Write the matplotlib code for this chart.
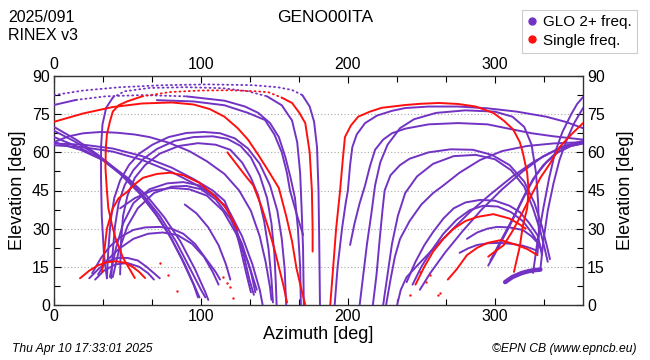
import matplotlib
matplotlib.use("Agg")
import matplotlib.pyplot as plt
from matplotlib.lines import Line2D
import numpy as np

plt.rcParams['font.family'] = ['Liberation Sans', 'DejaVu Sans']

PURPLE = '#7233C4'
RED = '#FF1010'

# ---- data: satellite tracks as (azimuth, elevation) pairs ----
T1 = [(0,82.5),(20,84.3),(45,85.6),(75,86.4),(105,86.7),(135,86.4),(152,85.6),(162,84.5),(169,82.5),(174,78),(177,72),(179,62),(180,45),(180.5,25),(181,0)]
T2 = [(36,10.5),(34,20),(32.5,35),(32,50),(32,62),(33,71),(35.5,77.5),(40,81.5),(48,84),(65,85.3),(90,85.6),(115,85.2),(132,84),(145,82),(155,78.5),(162,72.5),(165.5,64),(167.5,52),(168.5,38),(169.5,22),(170,0)]
T3 = [(0,78.6),(15,80.6),(35,82),(60,82.5),(90,82),(116,80.3),(130,78),(139,75.5),(147,71.5),(153,66),(157.5,58),(161,50),(164,42),(166,30),(167.5,15),(168,0)]
T4 = [(70,80.5),(95,80),(116,78.5),(132,75.5),(143.6,72.7),(150,67),(155,60),(158.5,52),(160.6,45),(165,36),(169.5,27.5)]
P1 = [(38,11),(42,22),(47,32),(54,40),(65,45.5),(77,47.8),(88,48.3),(99,47),(110,43),(120,36),(128,27),(135,16),(140,6),(142,0)]
P2 = [(40,11),(44,21),(50,31),(57,38),(68,44),(80,46.5),(90,46.8),(100,45.5),(110,41.5),(120,34),(128,24),(134,13),(137,5)]
P3 = [(45,38),(55,42),(67,45),(80,46),(92,45.5),(104,43),(115,37),(124,28),(132,17),(138,6)]
P4 = [(26,12.5),(32,18.5),(38,23),(46,27),(54,29.5),(62,30.5),(72,30.7),(80,30),(88,28),(96,24),(104,17.7),(110,13),(113,10)]
P5 = [(30,12),(36,17.5),(44,22),(54,26),(64,28),(74,28.5),(84,27.5),(94,24),(102,19),(108,13),(112,8)]
P6 = [(24,10.5),(30,14),(36,17),(43,18.5),(50,18.5),(57,17.5),(63,15),(68,12.5),(72,10.5)]
P7 = [(28,10),(34,13.5),(42,16),(50,16.5),(58,15),(64,12.5),(68,10)]
P8 = [(36,10.5),(37,22),(38.5,33),(41,42),(45,49),(51,55),(58,59.5),(67,63),(78,66),(90,67.6),(102,68),(113,67.5),(123,65.5),(132,61.5),(140,55.5),(147,47),(152,37),(155,26),(157,14),(158,0)]
P9 = [(39,10.5),(40,21),(41.5,31),(44,40),(48,47),(54,53),(61,57.5),(70,61.3),(82,64.5),(95,66),(108,66.3),(118,65.3),(127,62.5),(134,58),(140,51),(145,42),(148,32),(150,20),(151,8),(151.5,0)]
P10 = [(45,12),(45.5,24),(47,35),(50,43),(55,50),(62,55),(72,59.5),(85,62.5),(98,63.6),(110,63),(120,61),(128,56),(134,50),(139,43),(143,33),(146,22),(148,10),(149,1)]
P11 = [(0,64),(10,66.3),(20,67.5),(32,68),(43,67.7),(55,67),(65,66),(78,63.8),(92,60.5),(104,56.5),(116,51.5),(126,45),(134,37),(140,27),(144,17),(147,7),(148,2)]
P12 = [(0,70),(15,65),(30,59),(45,52),(57,45),(68,37),(78,28),(87,18),(95,8),(98,3)]
P13 = [(0,68.5),(15,64),(30,58.5),(45,51.5),(58,44),(70,35),(80,26),(89,16),(96,7),(99,3)]
P14 = [(0,66),(17,62),(33,57),(48,50.5),(61,43),(72,35),(83,25),(92,15),(100,6),(103,3)]
P15 = [(0,64),(18,61),(35,56.5),(50,50),(63,43),(75,34.5),(86,25),(96,14),(103,5),(105,2)]
P16 = [(0,63.5),(20,63),(40,61.5),(60,58.5),(80,54),(95,49.5),(108,45),(116,41),(122,33),(127,22),(131,12),(134,5)]
P17 = [(0,62.8),(20,62),(40,60.3),(60,57),(80,52.3),(96,47.5),(110,42.5),(118,38),(124,30),(129,20),(133,10),(136,4)]
P18 = [(89,39.5),(97,36),(105,30.5),(112,23.5),(117,16),(120,10)]
Q1 = [(191,0),(193,15),(196,30),(198.5,40),(200,45),(201.5,55),(203,62),(206,67),(211.7,71.5),(220,74.5),(230,76.3),(239,77.4),(255,78),(275,78),(295,77.3),(315,76),(335,74),(348,72),(360,69.5)]
Q2 = [(201.5,23.6),(204.5,32),(208,40),(211.7,47),(215,54.5),(218.5,61),(224,65),(230,67.5),(239,69.3),(255,71),(275,71.5),(295,71),(312,69),(325,67.5),(340,66.3),(360,65)]
Q3 = [(208,0),(210.5,12),(213,24),(216,36),(218.5,47),(222,56),(227,63),(235.5,69.5),(245,73),(260,75.5),(280,76.5),(300,76),(312,74),(320,70),(325,63),(328,52),(329.5,40),(330,28),(329,20)]
Q4 = [(217,0),(219.5,12),(221.5,25),(223.5,37),(225,45),(229,51),(235.5,55),(242,57.5),(255,60),(270,61.2),(285,61),(298,59),(310,55),(320,48.5),(327,40),(332,31),(335.5,23),(337.5,18)]
Q5 = [(224,0),(227,12),(230,24),(234,35),(239,44),(247,50.5),(258,55.5),(272,58.5),(287,59),(300,57.3),(311,53),(320,46.5),(326,38),(331,29),(334,22),(336,17)]
Q6 = [(226,0),(229,10),(232,19),(235.5,26),(242,33),(250,39.5),(258,44),(265,47),(276,52),(290,57),(305,60.5),(322,62.5),(340,63.5),(360,64)]
Q7 = [(233.5,0),(236,6),(240,11),(248,16),(258,22),(271.6,30),(283,36.5),(297,43.5),(312,50.5),(327,56.5),(342,61),(352,63),(360,64)]
Q8 = [(249,6),(256,12.5),(266,20.5),(278,29),(291,37.5),(305,45.5),(319,52.5),(333,58.5),(347,62.5),(360,64.5)]
Q9 = [(240,9),(246,17),(252,23.5),(258,28.7),(265,34),(272,38),(280,40.3),(290,41.3),(300,41),(310,39),(317,36.5),(323,32.5),(329,27.5),(331,23),(332,19.6)]
Q10 = [(244,8),(250,15),(257,21.5),(265,28),(274,33.5),(283,37.3),(292,39),(302,38.7),(311,36.5),(319,33),(325,28.5),(330,24),(332,21)]
Q11 = [(281,26),(288,28.5),(295,30),(301.5,30.7),(310,30.5),(319,29.5),(325,27),(329,24.5),(331,22.4)]
Q12 = [(276,20.5),(282,22.3),(288,23.6),(296,24.3),(303.6,24.4),(312,24),(319,23.3),(324,22.4),(328,21.5)]
Q13 = [(326,12.6),(329,25),(333,38),(337,50),(341,60),(346,68),(352,75),(356,79),(360,81.7)]
Q14 = [(331,14),(333,25),(336,37),(340,48),(344,57),(349,65),(354,71.5),(360,77.4)]
Q15 = [(295.5,15.5),(300,20),(305,25.5),(310,31),(316,38),(322,45),(328,51),(335,56),(343,60),(352,62.5),(360,63.5)]
Q16 = [(297,17.5),(302,23),(308,29.5),(314,36),(320,43),(326,49.5),(333,55),(341,59.5),(350,62.3),(360,63.5)]
Q17 = [(307,9),(312,11),(318,12.5),(323,13.3),(327,13.7),(331,13.9)]

R_a = [(0,72),(20,75.3),(40,77.8),(60,79.2),(80,79.6),(95,78.8),(106,77),(116,74),(125,69.5),(132,65),(139,59),(145.6,53),(153,46),(158,35),(162,25),(165,14.5),(168,7),(171,0)]
R_e = [(295.5,19),(300,21),(306,23.5),(312.5,29.5),(318,35.5),(322,40),(327,45.5),(331,50),(338,56),(344,62),(352,67),(360,71.5)]
R_top = [(55,10.6),(47,18.5),(42,26),(39.5,31.4),(37,38),(36,45),(35,54),(35.3,62),(36,67),(38,72),(40,76),(44,78.5),(49.7,80),(60,82),(79,83.7),(100,84.3),(120,84.4),(138,84),(146,83.6),(155,81.5),(162,79.4),(167,75.5),(171,71.5),(174,60),(175.5,45),(176,30),(176,21)]
R_b = [(32.7,13),(34,20),(36,30),(40,38),(44,42),(49.7,44.4),(55,47.5),(60.6,50),(70,51.5),(79,52),(88,51),(99,48),(108,43.5),(116,39),(121,34),(125,29.5)]
R_c = [(118,60),(124,55.5),(130,51),(135.6,47),(141,39),(146,30),(150,22),(153,15),(156,8),(158.6,1)]
R_d = [(188,0),(190,15),(192,30),(194.7,45),(196.5,57),(198,66),(202,70.5),(207,74),(215,76),(223,77.5),(239,78.6),(250,79.1),(262,79.4),(275,79),(287,78),(299,75.5),(306,72.5),(312.5,69),(317,64),(319,60),(322,52),(323,45),(322,38),(319,31),(317,23),(313,13)]
R_f = [(246,8),(252,15),(258,21),(265,26),(272,30),(280,33),(288,34.6),(299,35.7),(310,34),(316,32),(321,30)]
R_g = [(268,10),(274,14),(281,19.6),(288,22.5),(295,24.4),(304,25.5),(315,23.6),(322,22),(329,19.6)]
R_i = [(17.7,10.5),(24,13.5),(30,15.6),(36,16.8),(42,17.2),(48,16.6),(53,15.2),(58,13),(62,10.6)]

red_dot_az = [72, 77.6, 84, 115, 118, 120, 122, 242, 256, 261, 263, 249, 253]
red_dot_el = [16.5, 11.8, 5.5, 11, 8.5, 7, 2.7, 4, 11.8, 4, 4.7, 13, 9]

purple_tracks = [T1, T2, T3, T4, P1, P2, P3, P4, P5, P6, P7, P8, P9, P10, P11, P12, P13,
                 P14, P15, P16, P17, P18, Q1, Q2, Q3, Q4, Q5, Q6, Q7, Q8, Q9, Q10, Q11,
                 Q12, Q13, Q14, Q15, Q16]
thick_tracks = [Q17]
red_tracks = [R_a, R_e, R_top, R_b, R_c, R_d, R_f, R_g, R_i]

legend_labels = ['GLO 2+ freq.', 'Single freq.']
x_ticks = [0, 100, 200, 300]
y_ticks = [0, 15, 30, 45, 60, 75, 90]

# ---- figure ----
fig = plt.figure(figsize=(6.5, 3.6), dpi=100)
ax = fig.add_axes([54/650, 1-305/360, 529/650, 229/360])

def draw_track(track, color, lw=1.4):
    az = np.array([p[0] for p in track], float)
    el = np.array([p[1] for p in track], float)
    high = el >= 80.5
    n = len(az)
    i = 0
    while i < n - 1:
        h = high[i] and high[i+1]
        j = i + 1
        while j < n - 1 and (high[j] and high[j+1]) == h:
            j += 1
        seg = slice(i, j + 1)
        if h:
            ax.plot(az[seg], el[seg], color=color, lw=1.3, ls=(0, (0.6, 2.0)),
                    dash_capstyle='round', zorder=3)
        else:
            ax.plot(az[seg], el[seg], color=color, lw=lw, solid_capstyle='round',
                    solid_joinstyle='round', zorder=3)
        i = j

for t in purple_tracks:
    draw_track(t, PURPLE)
for t in thick_tracks:
    draw_track(t, PURPLE, lw=3.2)
for t in red_tracks:
    draw_track(t, RED)
ax.scatter(red_dot_az, red_dot_el, s=3, color=RED, zorder=4, linewidths=0)

ax.set_xlim(0, 360)
ax.set_ylim(0, 90)
ax.set_xticks(x_ticks)
ax.set_yticks(y_ticks)
ax.set_xticks(np.arange(0, 361, 100/3), minor=True)
ax.set_yticks(np.arange(0, 91, 7.5), minor=True)
ax.tick_params(which='both', direction='in', top=True, right=True,
               labeltop=True, labelright=True, labelsize=11.5, length=5, width=0.8, pad=3)
ax.tick_params(which='minor', length=4)
for yv in y_ticks[1:-1]:
    ax.axhline(yv, color='#A8A8A8', lw=0.8, ls=(0, (1, 2)), zorder=1)
for s in ax.spines.values():
    s.set_linewidth(1.0)
    s.set_color('#333333')

ax.set_xlabel('Azimuth [deg]', fontsize=13, labelpad=1)
ax.set_ylabel('Elevation [deg]', fontsize=13, labelpad=4)
fig.text(625/650, 1-190/360, 'Elevation [deg]', rotation=90, fontsize=13,
         ha='center', va='center')

fig.text(8/650, 1-17/360, '2025/091', fontsize=11.5, ha='left', va='center')
fig.text(8/650, 1-35/360, 'RINEX v3', fontsize=11.5, ha='left', va='center')
fig.text(325/650, 1-18/360, 'GENO00ITA', fontsize=12.5, ha='center', va='center')
fig.text(12/650, 1-349/360, 'Thu Apr 10 17:33:01 2025', fontsize=8.7, style='italic',
         ha='left', va='center')
fig.text(637/650, 1-349/360, '\u00a9EPN CB (www.epncb.eu)', fontsize=8.7, style='italic',
         ha='right', va='center')

handles = [Line2D([], [], ls='none', marker='o', ms=5, color=PURPLE),
           Line2D([], [], ls='none', marker='o', ms=5, color=RED)]
leg = fig.legend(handles, legend_labels, loc='upper right',
                 bbox_to_anchor=(645/650, 1-2/360), fontsize=11, frameon=True,
                 fancybox=False, edgecolor='#CCCCCC', framealpha=1,
                 handlelength=0.6, handletextpad=0.45, borderpad=0.35, labelspacing=0.3)
leg.get_frame().set_linewidth(0.8)

fig.savefig('out.png', dpi=100)
